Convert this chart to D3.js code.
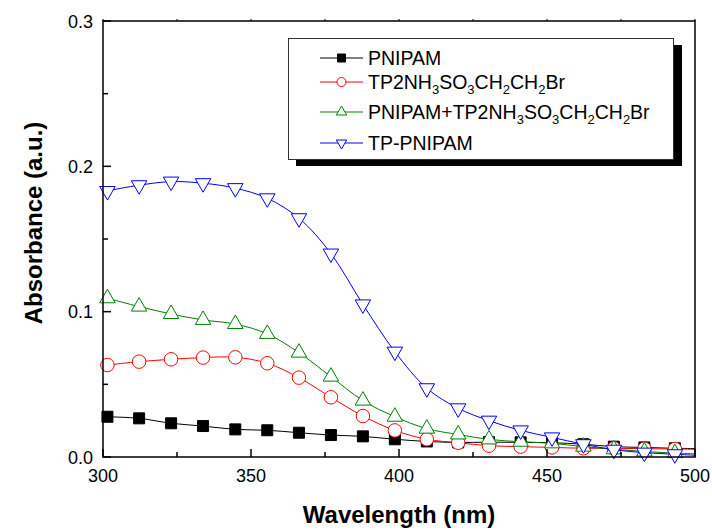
<!DOCTYPE html>
<html><head><meta charset="utf-8">
<script src="https://cdn.jsdelivr.net/npm/d3@7"></script>
<style>html,body{margin:0;padding:0;background:#fff;}svg{display:block;font-family:"Liberation Sans",Arial,sans-serif;}</style>
</head><body><svg id="c" width="712" height="530"></svg>
<script>
// wavelengths (nm): line endpoints 300/500 plus marker positions
const wavelengths = [300, 301.5, 312.2, 323.0, 333.8, 344.7, 355.5, 366.2, 377.0, 387.8, 398.6, 409.4, 420.0, 430.4, 441.1, 451.7, 462.3, 472.6, 482.9, 493.2, 500];
const pnipam   = [0.0278, 0.0277, 0.0266, 0.0232, 0.0213, 0.0190, 0.0184, 0.0167, 0.0151, 0.0142, 0.0122, 0.0107, 0.0100, 0.0102, 0.0101, 0.0098, 0.0088, 0.0071, 0.0066, 0.0060, 0.0058];
const tp2      = [0.0630, 0.0633, 0.0656, 0.0672, 0.0684, 0.0686, 0.0645, 0.0546, 0.0411, 0.0282, 0.0183, 0.0122, 0.0098, 0.0078, 0.0071, 0.0066, 0.0060, 0.0060, 0.0057, 0.0055, 0.0053];
const mix      = [0.1100, 0.1092, 0.1035, 0.0984, 0.0943, 0.0915, 0.0847, 0.0718, 0.0553, 0.0388, 0.0277, 0.0195, 0.0155, 0.0121, 0.0105, 0.0094, 0.0071, 0.0053, 0.0038, 0.0027, 0.0022];
const tpPnipam = [0.1820, 0.1830, 0.1870, 0.1895, 0.1884, 0.1850, 0.1780, 0.1643, 0.1400, 0.1050, 0.0725, 0.0473, 0.0335, 0.0250, 0.0183, 0.0135, 0.0088, 0.0050, 0.0030, 0.0019, 0.0012];
const xTicks = [300, 350, 400, 450, 500];
const xMinor = [325, 375, 425, 475];
const yTicks = [0.0, 0.1, 0.2, 0.3];
const yMinor = [0.05, 0.15, 0.25];

const series = [
  {name: "PNIPAM", values: pnipam, color: "#000000", marker: "square"},
  {name: "TP2NH3SO3CH2CH2Br", values: tp2, color: "#ff0000", marker: "circle"},
  {name: "PNIPAM+TP2NH3SO3CH2CH2Br", values: mix, color: "#008000", marker: "up"},
  {name: "TP-PNIPAM", values: tpPnipam, color: "#0000ff", marker: "down"}
];

const svg = d3.select("#c");
const L = 103, R = 695, T = 21, B = 457;
const x = d3.scaleLinear().domain([300, 500]).range([L, R]);
const y = d3.scaleLinear().domain([0, 0.3]).range([B, T]);

function markerPath(type, s) {
  if (type === "square") { const h = s / 2; return `M${-h},${-h}H${h}V${h}H${-h}Z`; }
  if (type === "up") { const w = s * 1.15, h = s; return `M0,${-h*2/3}L${w/2},${h/3}L${-w/2},${h/3}Z`; }
  if (type === "down") { const w = s * 1.15, h = s; return `M0,${h*2/3}L${w/2},${-h/3}L${-w/2},${-h/3}Z`; }
  return null;
}
function drawMarker(g, type, color, cx, cy, s) {
  if (type === "circle") {
    g.append("circle").attr("cx", cx).attr("cy", cy).attr("r", s / 2)
      .attr("fill", "#fff").attr("stroke", color).attr("stroke-width", 1);
  } else {
    g.append("path").attr("d", markerPath(type, s)).attr("transform", `translate(${cx},${cy})`)
      .attr("fill", type === "square" ? color : "#fff").attr("stroke", color).attr("stroke-width", 1);
  }
}

// series
const line = d3.line().x((d, i) => x(wavelengths[i])).y(d => y(d)).curve(d3.curveCatmullRom.alpha(0.5));
series.forEach(s => {
  const g = svg.append("g");
  g.append("path").attr("d", line(s.values)).attr("fill", "none").attr("stroke", s.color).attr("stroke-width", 1);
  const size = s.marker === "square" ? 11 : 13.5;
  s.values.forEach((v, i) => {
    if (i === 0 || i === s.values.length - 1) return;
    drawMarker(g, s.marker, s.color, x(wavelengths[i]), y(v), size);
  });
});

// axes frame
const ax = svg.append("g").attr("stroke", "#000").attr("fill", "none");
ax.append("rect").attr("x", L).attr("y", T).attr("width", R - L).attr("height", B - T).attr("stroke-width", 1.5);
xTicks.forEach(t => { ax.append("line").attr("x1", x(t)).attr("x2", x(t)).attr("y1", B).attr("y2", B - 8).attr("stroke-width", 1.5); });
xMinor.forEach(t => { ax.append("line").attr("x1", x(t)).attr("x2", x(t)).attr("y1", B).attr("y2", B - 5).attr("stroke-width", 1.5); });
xTicks.concat(xMinor).forEach(t => { ax.append("line").attr("x1", x(t)).attr("x2", x(t)).attr("y1", T).attr("y2", T - 2).attr("stroke-width", 1); });
yTicks.forEach(t => { ax.append("line").attr("x1", L).attr("x2", L + 8).attr("y1", y(t)).attr("y2", y(t)).attr("stroke-width", 1.5); });
yMinor.forEach(t => { ax.append("line").attr("x1", L).attr("x2", L + 5).attr("y1", y(t)).attr("y2", y(t)).attr("stroke-width", 1.5); });

// tick labels
const tl = svg.append("g").attr("font-size", 18).attr("fill", "#000");
xTicks.forEach(t => tl.append("text").attr("x", x(t)).attr("y", 482).attr("text-anchor", "middle").text(t));
yTicks.forEach(t => tl.append("text").attr("x", 93).attr("y", y(t) + 6.5).attr("text-anchor", "end").text(t.toFixed(1)));

// axis titles
svg.append("text").attr("x", 399).attr("y", 523).attr("text-anchor", "middle")
  .attr("font-size", 24).attr("font-weight", "bold").text("Wavelength (nm)");
svg.append("text").attr("transform", "translate(42,223) rotate(-90)").attr("text-anchor", "middle")
  .attr("font-size", 24).attr("font-weight", "bold").text("Absorbance (a.u.)");

// legend
const lg = svg.append("g");
lg.append("rect").attr("x", 296).attr("y", 45).attr("width", 386).attr("height", 121).attr("fill", "#000");
lg.append("rect").attr("x", 288.5).attr("y", 38.5).attr("width", 385).attr("height", 121).attr("fill", "#fff").attr("stroke", "#333").attr("stroke-width", 1);
const rowsY = [58, 82, 112, 143];
function richText(el, name) {
  const parts = name.split(/(?<=[HO])(\d)/);
  parts.forEach((p, i) => {
    if (p === "") return;
    if (i % 2 === 1) el.append("tspan").attr("font-size", 13).attr("dy", 5).text(p);
    else {
      const ts = el.append("tspan").text(p);
      if (i > 0) ts.attr("dy", -5);
    }
  });
}
series.forEach((s, i) => {
  const yy = rowsY[i];
  lg.append("line").attr("x1", 320).attr("x2", 363).attr("y1", yy).attr("y2", yy).attr("stroke", s.color).attr("stroke-width", 1);
  drawMarker(lg, s.marker, s.color, 341.5, yy, s.marker === "square" ? 8 : 9);
  const t = lg.append("text").attr("x", 368).attr("y", yy + 7).attr("font-size", 19.5).attr("fill", "#000");
  richText(t, s.name);
});
</script></body></html>
